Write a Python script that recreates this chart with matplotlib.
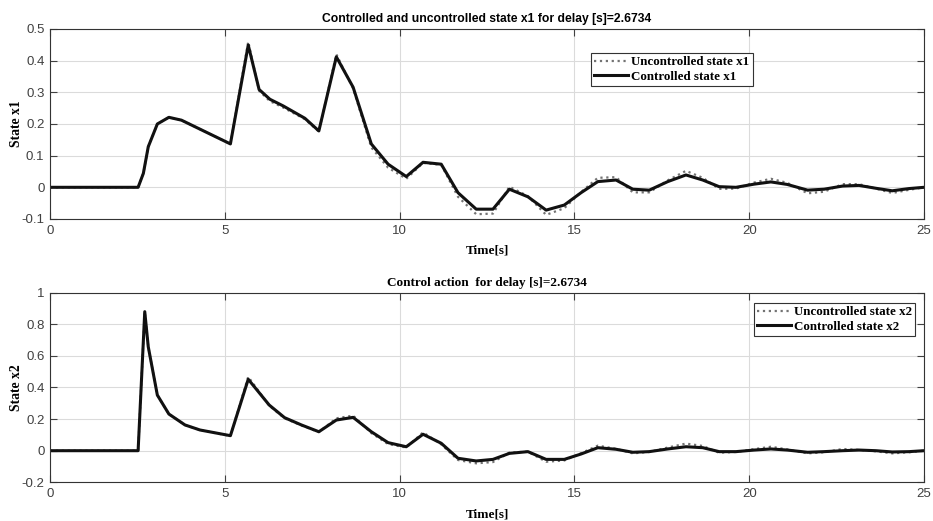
import matplotlib
matplotlib.use("Agg")
import matplotlib.pyplot as plt
from matplotlib import font_manager

time_x1 = [0, 2.52, 2.67, 2.81, 3.07, 3.40, 3.76, 5.16, 5.67, 5.98, 6.29, 6.67, 7.29, 7.69,
           8.19, 8.67, 9.19, 9.67, 10.19, 10.67, 11.19, 11.67, 12.19, 12.67, 13.14, 13.67,
           14.19, 14.71, 15.19, 15.67, 16.19, 16.67, 17.14, 17.67, 18.19, 18.67, 19.14, 19.62,
           20.14, 20.62, 21.09, 21.67, 22.14, 22.67, 23.14, 23.62, 24.09, 24.57, 25.0]
x1_ctrl = [0, 0, 0.044, 0.128, 0.200, 0.221, 0.212, 0.137, 0.449, 0.309, 0.278, 0.257, 0.218, 0.178,
           0.412, 0.316, 0.137, 0.073, 0.034, 0.079, 0.073, -0.017, -0.069, -0.069, -0.006, -0.030,
           -0.072, -0.056, -0.017, 0.018, 0.023, -0.006, -0.009, 0.018, 0.039, 0.023, 0.002, 0.000,
           0.010, 0.017, 0.009, -0.009, -0.006, 0.004, 0.006, -0.003, -0.011, -0.004, 0.000]
x1_unc = [0, 0, 0.044, 0.128, 0.200, 0.221, 0.212, 0.137, 0.460, 0.305, 0.272, 0.252, 0.215, 0.176,
          0.420, 0.312, 0.126, 0.062, 0.027, 0.077, 0.071, -0.030, -0.085, -0.083, 0.002, -0.028,
          -0.087, -0.066, -0.015, 0.030, 0.032, -0.016, -0.016, 0.022, 0.052, 0.030, -0.005, -0.004,
          0.015, 0.027, 0.014, -0.019, -0.014, 0.010, 0.010, -0.004, -0.018, -0.008, 0.000]

time_x2 = [0, 2.52, 2.71, 2.81, 3.07, 3.40, 3.86, 4.29, 5.16, 5.67, 6.27, 6.71, 7.19, 7.69,
           8.19, 8.67, 9.19, 9.67, 10.19, 10.67, 11.19, 11.67, 12.19, 12.67, 13.14, 13.67,
           14.19, 14.71, 15.19, 15.67, 16.19, 16.67, 17.14, 17.67, 18.19, 18.67, 19.14, 19.62,
           20.14, 20.62, 21.09, 21.67, 22.14, 22.67, 23.14, 23.62, 24.09, 24.57, 25.0]
x2_ctrl = [0, 0, 0.880, 0.658, 0.352, 0.232, 0.163, 0.131, 0.095, 0.452, 0.289, 0.209, 0.163, 0.120,
           0.194, 0.211, 0.120, 0.051, 0.025, 0.104, 0.047, -0.048, -0.065, -0.055, -0.017, -0.006,
           -0.055, -0.055, -0.021, 0.019, 0.009, -0.010, -0.006, 0.011, 0.025, 0.019, -0.006, -0.006,
           0.004, 0.011, 0.004, -0.010, -0.006, 0.000, 0.004, 0.000, -0.008, -0.006, 0.000]
x2_unc = [0, 0, 0.880, 0.658, 0.352, 0.232, 0.163, 0.131, 0.093, 0.468, 0.285, 0.205, 0.160, 0.118,
          0.205, 0.222, 0.112, 0.042, 0.020, 0.116, 0.040, -0.059, -0.080, -0.072, -0.012, -0.006,
          -0.070, -0.062, -0.016, 0.032, 0.012, -0.017, -0.008, 0.020, 0.045, 0.030, -0.013, -0.008,
          0.010, 0.025, 0.008, -0.017, -0.010, 0.011, 0.005, -0.004, -0.017, -0.010, 0.000]

x_ticks = [0, 5, 10, 15, 20, 25]
y1_ticks = [-0.1, 0, 0.1, 0.2, 0.3, 0.4, 0.5]
y2_ticks = [-0.2, 0, 0.2, 0.4, 0.6, 0.8, 1]

title1 = "Controlled and uncontrolled state x1 for delay [s]=2.6734"
title2 = "Control action  for delay [s]=2.6734"

names = {f.name for f in font_manager.fontManager.ttflist}
narrow = "Liberation Sans Narrow" if "Liberation Sans Narrow" in names else "Liberation Sans"
serif = "Liberation Serif"

fig = plt.figure(figsize=(9.33, 5.21), dpi=100)
ax1 = fig.add_axes([0.0536, 0.5797, 0.9368, 0.3647])
ax2 = fig.add_axes([0.0536, 0.0743, 0.9368, 0.3639])


def style(ax, yticks, ylim):
    ax.set_xlim(0, 25)
    ax.set_ylim(*ylim)
    ax.set_xticks(x_ticks)
    ax.set_yticks(yticks)
    ax.set_xticklabels([f"{v:g}" for v in x_ticks])
    ax.set_yticklabels([f"{v:g}" for v in yticks])
    ax.grid(True, color="0.86", linewidth=0.8)
    ax.set_axisbelow(True)
    ax.tick_params(direction="in", top=True, right=True, length=5, width=0.8,
                   colors="0.25", labelsize=9.5, pad=4)
    for lab in ax.get_xticklabels() + ax.get_yticklabels():
        lab.set_fontfamily("Liberation Sans")
    for s in ax.spines.values():
        s.set_color("0.2")
        s.set_linewidth(0.8)
    ax.set_xlabel("Time[s]", fontfamily=serif, fontweight="bold", fontsize=9.5, labelpad=6)


style(ax1, y1_ticks, (-0.1, 0.5))
style(ax2, y2_ticks, (-0.2, 1.0))

ax1.plot(time_x1, x1_unc, linestyle=":", color="0.45", linewidth=1.6, label="Uncontrolled state x1")
ax1.plot(time_x1, x1_ctrl, linestyle="-", color="#111111", linewidth=2.2, label="Controlled state x1")
ax2.plot(time_x2, x2_unc, linestyle=":", color="0.45", linewidth=1.6, label="Uncontrolled state x2")
ax2.plot(time_x2, x2_ctrl, linestyle="-", color="#111111", linewidth=2.2, label="Controlled state x2")

ax1.set_ylabel("State x1", fontfamily=serif, fontweight="bold", fontsize=9.8)
ax2.set_ylabel("State x2", fontfamily=serif, fontweight="bold", fontsize=9.8)
ax1.yaxis.set_label_coords(-0.031, 0.5)
ax2.yaxis.set_label_coords(-0.031, 0.5)
ax1.set_title(title1, fontfamily=narrow, fontweight="bold", fontsize=8.7, pad=5)
ax2.set_title(title2, fontfamily=serif, fontweight="bold", fontsize=9.5, pad=5)

legprops = dict(family=serif, weight="bold", size=9.4)
for ax, anchor, loc in [(ax1, (0.6186, 0.875), "upper left"), (ax2, (0.99, 0.947), "upper right")]:
    leg = ax.legend(loc=loc, bbox_to_anchor=anchor, prop=legprops, fancybox=False,
                    framealpha=1, edgecolor="0.2", handlelength=2.6, handletextpad=0.25,
                    borderpad=0.25, labelspacing=0.2, borderaxespad=0)
    leg.get_frame().set_linewidth(0.8)

fig.savefig("out.png", dpi=100)
